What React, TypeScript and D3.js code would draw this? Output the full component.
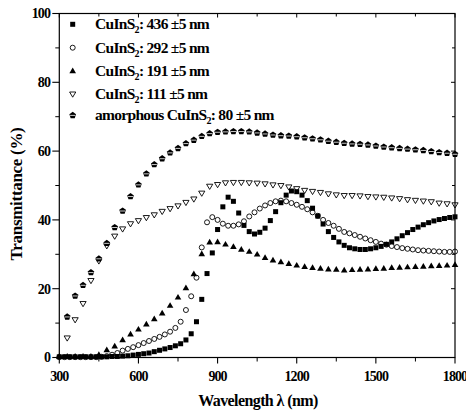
import React from 'react';
import * as d3 from 'd3';

// wavelength grids (nm)
const wl20 = [300,320,340,360,380,400,420,440,460,480,500,520,540,560,580,600,620,640,660,680,700,720,740,760,780,800,820,840,860,880,900,920,940,960,980,1000,1020,1040,1060,1080,1100,1120,1140,1160,1180,1200,1220,1240,1260,1280,1300,1320,1340,1360,1380,1400,1420,1440,1460,1480,1500,1520,1540,1560,1580,1600,1620,1640,1660,1680,1700,1720,1740,1760,1780,1800];
const wl30 = [300,330,360,390,420,450,480,510,540,570,600,630,660,690,720,750,780,810,840,870,900,930,960,990,1020,1050,1080,1110,1140,1170,1200,1230,1260,1290,1320,1350,1380,1410,1440,1470,1500,1530,1560,1590,1620,1650,1680,1710,1740,1770,1800];
const wl30b = [330,360,390,420,450,480,510,540,570,600,630,660,690,720,750,780,810,840,870,900,930,960,990,1020,1050,1080,1110,1140,1170,1200,1230,1260,1290,1320,1350,1380,1410,1440,1470,1500,1530,1560,1590,1620,1650,1680,1710,1740,1770,1800];

// transmittance (%)
const t436 = [0.2,0.2,0.2,0.2,0.2,0.2,0.2,0.2,0.2,0.2,0.3,0.3,0.4,0.5,0.7,0.9,1.1,1.3,1.7,2.1,2.5,2.9,3.4,4.0,5.1,6.9,10.4,16.9,24.4,30.4,37.2,43.8,46.6,45.4,42.0,38.4,36.6,35.9,36.4,37.6,39.8,42.4,45.0,47.2,48.4,48.2,47.2,45.6,43.4,41.1,38.8,36.6,34.9,33.6,32.6,31.9,31.6,31.4,31.4,31.6,31.9,32.3,32.9,33.6,34.5,35.4,36.3,37.2,37.9,38.6,39.2,39.7,40.1,40.4,40.7,40.9];
const t292 = [0.1,0.1,0.1,0.1,0.1,0.1,0.1,0.1,0.2,0.4,0.8,1.3,2.0,2.5,3.0,3.6,4.2,4.8,5.4,6.0,6.7,7.5,8.6,10.4,13.8,17.8,23.2,32.0,39.3,40.8,40.0,38.9,38.3,38.3,38.7,39.6,41.0,42.2,43.3,44.2,44.9,45.4,45.6,45.4,44.9,44.4,43.8,43.1,42.2,41.2,40.0,39.1,38.3,37.4,36.5,36.1,35.6,35.1,34.6,34.1,33.6,33.1,32.8,32.4,32.1,31.8,31.6,31.4,31.2,31.1,31.0,30.9,30.8,30.7,30.7,30.8];
const t191 = [0.3,0.3,0.3,0.3,0.3,0.8,2.2,3.3,5.1,6.8,8.2,9.7,11.2,12.9,15.1,17.5,20.2,24.3,30.1,33.5,33.6,32.9,32.2,31.4,30.8,30.0,29.0,28.3,27.8,27.3,26.8,26.4,26.1,25.9,25.7,25.6,25.4,25.5,25.6,25.7,25.8,25.9,26.1,26.2,26.3,26.4,26.5,26.6,26.7,26.8,27.0];
const t111 = [5.6,10.9,15.6,22.3,28.0,32.4,35.2,37.3,38.8,39.7,40.6,41.4,42.4,43.2,44.0,45.0,46.0,47.7,49.7,50.2,50.7,50.8,50.8,50.7,50.6,50.4,50.1,49.9,49.5,49.0,48.5,48.2,47.9,47.5,47.2,47.0,47.0,46.9,46.7,46.6,46.5,46.3,46.1,45.8,45.6,45.4,45.2,44.8,44.6,44.3];
const tAmor = [11.9,18.0,21.1,24.8,28.8,33.3,37.9,42.7,46.9,50.3,53.5,56.2,57.9,59.6,60.9,62.3,63.3,64.4,65.2,65.6,65.7,65.8,65.8,65.7,65.4,65.1,64.8,64.6,64.5,64.3,64.0,63.7,63.4,63.0,62.7,62.4,62.2,62.1,61.9,61.6,61.3,61.1,60.9,60.7,60.5,60.3,60.0,59.7,59.5,59.2];

const xTicks = [300, 600, 900, 1200, 1500, 1800];
const xMinor = [450, 750, 1050, 1350, 1650];
const yTicks = [0, 20, 40, 60, 80, 100];
const yMinor = [10, 30, 50, 70, 90];

const legendPre = ['CuInS', 'CuInS', 'CuInS', 'CuInS', 'amorphous CuInS'];
const legendPost = [': 436 \u00b15 nm', ': 292 \u00b15 nm', ': 191 \u00b15 nm', ': 111 \u00b15 nm', ': 80 \u00b15 nm'];
const legendKinds = ['square', 'circle', 'tri', 'dtri', 'pent'];

const FONT = '"Liberation Serif", "DejaVu Serif", serif';
const txt = (size: number, ls: number) => ({
  fontFamily: FONT,
  fontWeight: 700 as const,
  fontSize: size + 'px',
  letterSpacing: ls + 'px',
});

function Marker({ kind, cx, cy }: { kind: string; cx: number; cy: number }) {
  if (kind === 'square') return <rect x={cx - 2.5} y={cy - 2.5} width={5} height={5} fill="#000" />;
  if (kind === 'circle') return <circle cx={cx} cy={cy} r={2.5} fill="none" stroke="#000" strokeWidth={0.9} />;
  if (kind === 'tri')
    return <polygon points={`${cx},${cy - 3.4} ${cx + 3.3},${cy + 2.3} ${cx - 3.3},${cy + 2.3}`} fill="#000" />;
  if (kind === 'dtri')
    return (
      <polygon
        points={`${cx - 3.1},${cy - 2.3} ${cx + 3.1},${cy - 2.3} ${cx},${cy + 2.9}`}
        fill="none"
        stroke="#000"
        strokeWidth={0.9}
      />
    );
  const r = 3.5;
  const pts = d3.range(5).map((i) => {
    const a = -Math.PI / 2 + (i * 2 * Math.PI) / 5;
    return `${cx + r * Math.cos(a)},${cy + 0.3 + r * Math.sin(a)}`;
  });
  return (
    <g>
      <polygon points={pts.join(' ')} fill="#000" />
      <line x1={cx - 2.6} x2={cx + 2.6} y1={cy + 0.4} y2={cy + 0.4} stroke="#fff" strokeWidth={0.8} />
    </g>
  );
}

export default function App() {
  const W = 466, H = 415;
  const x = d3.scaleLinear().domain([300, 1800]).range([59.3, 455]);
  const y = d3.scaleLinear().domain([0, 100]).range([357.5, 13.5]);
  const [x0, x1] = x.range();
  const [y0, y1] = y.range();

  const series = [
    { kind: 'tri', xs: wl30, ys: t191 },
    { kind: 'circle', xs: wl20, ys: t292 },
    { kind: 'square', xs: wl20, ys: t436 },
    { kind: 'dtri', xs: wl30b, ys: t111 },
    { kind: 'pent', xs: wl30b, ys: tAmor },
  ];

  const legendY = [24.3, 47.7, 71, 94.3, 115];

  return (
    <svg width={W} height={H} style={{ position: 'absolute', left: 0, top: 0, background: '#fff' }}>
      <rect width={W} height={H} fill="#fff" />
      {/* frame */}
      <rect x={x0} y={y1} width={x1 - x0} height={y0 - y1} fill="none" stroke="#000" strokeWidth={1.2} />
      {xTicks.map((t) => (
        <g key={'xt' + t}>
          <line x1={x(t)} x2={x(t)} y1={y0} y2={y0 + 6} stroke="#000" strokeWidth={1.1} />
          <line x1={x(t)} x2={x(t)} y1={y1} y2={y1 + 4} stroke="#000" strokeWidth={1} />
          <text x={x(t)} y={381} textAnchor="middle" style={txt(14, -0.9)}>
            {t}
          </text>
        </g>
      ))}
      {xMinor.map((t) => (
        <g key={'xm' + t}>
          <line x1={x(t)} x2={x(t)} y1={y0} y2={y0 + 4} stroke="#000" strokeWidth={1} />
          <line x1={x(t)} x2={x(t)} y1={y1} y2={y1 + 3} stroke="#000" strokeWidth={1} />
        </g>
      ))}
      {yTicks.map((t) => (
        <g key={'yt' + t}>
          <line x1={x0 - 7} x2={x0} y1={y(t)} y2={y(t)} stroke="#000" strokeWidth={1.1} />
          <line x1={x1 - 4} x2={x1} y1={y(t)} y2={y(t)} stroke="#000" strokeWidth={1} />
          <text x={50} y={y(t)} dy="0.35em" textAnchor="end" style={txt(14, -0.9)}>
            {t}
          </text>
        </g>
      ))}
      {yMinor.map((t) => (
        <g key={'ym' + t}>
          <line x1={x0 - 4} x2={x0} y1={y(t)} y2={y(t)} stroke="#000" strokeWidth={1} />
          <line x1={x1 - 3} x2={x1} y1={y(t)} y2={y(t)} stroke="#000" strokeWidth={1} />
        </g>
      ))}
      {/* axis titles */}
      <text x={258} y={406} textAnchor="middle" style={txt(16, -0.6)}>
        Wavelength λ (nm)
      </text>
      <text transform="translate(22,194) rotate(-90)" textAnchor="middle" style={txt(17, -0.3)}>
        Transmittance (%)
      </text>
      {/* data */}
      {series.map((s, si) => (
        <g key={'s' + si}>
          {s.xs.map((w, i) => (
            <Marker key={i} kind={s.kind} cx={x(w)} cy={y(s.ys[i])} />
          ))}
        </g>
      ))}
      {/* legend */}
      {legendKinds.map((k, i) => (
        <g key={'lg' + i}>
          <Marker kind={k} cx={72.7} cy={legendY[i]} />
          <text x={95} y={legendY[i] + 5} style={txt(15.5, -0.7)}>
            {legendPre[i]}
            <tspan style={{ fontSize: '10px' }} dy={4}>2</tspan>
            <tspan dy={-4}>{legendPost[i]}</tspan>
          </text>
        </g>
      ))}
    </svg>
  );
}
